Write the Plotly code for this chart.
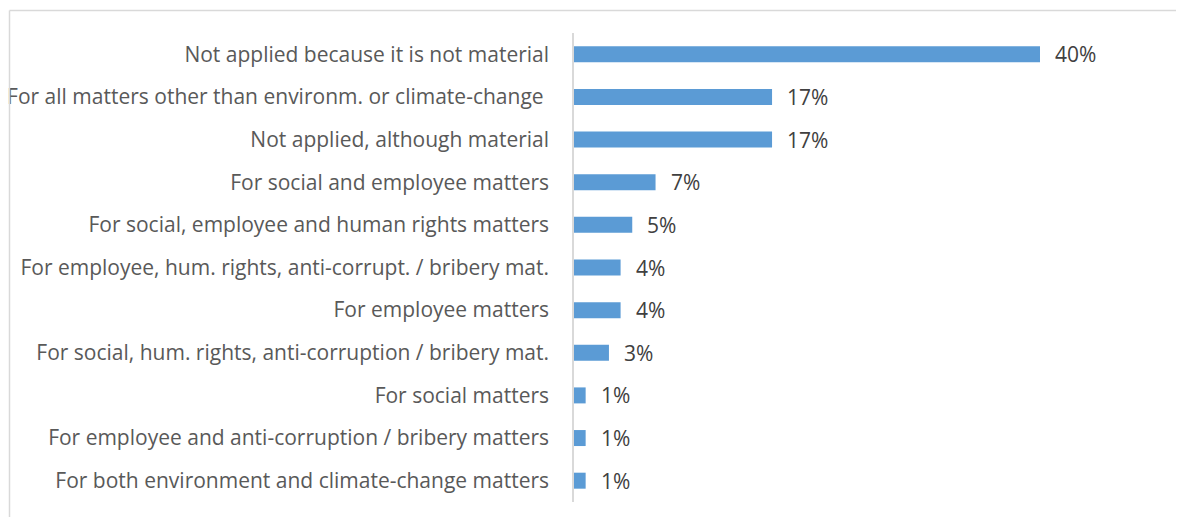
import plotly.graph_objects as go

categories = [
    "Not applied because it is not material",
    "For all matters other than environm. or climate-change ",
    "Not applied, although material",
    "For social and employee matters",
    "For social, employee and human rights matters",
    "For employee, hum. rights, anti-corrupt. / bribery mat.",
    "For employee matters",
    "For social, hum. rights, anti-corruption / bribery mat.",
    "For social matters",
    "For employee and anti-corruption / bribery matters",
    "For both environment and climate-change matters",
]
values = [40, 17, 17, 7, 5, 4, 4, 3, 1, 1, 1]
value_labels = ["40%", "17%", "17%", "7%", "5%", "4%", "4%", "3%", "1%", "1%", "1%"]

W, H = 1179, 517
L, R, T, B = 574, 81, 33, 15
pw, ph = W - L - R, H - T - B
FS = 21

fig = go.Figure(go.Bar(
    x=values, y=categories, orientation="h",
    marker=dict(color="#5B9BD5", line=dict(width=0)),
    width=0.375, hoverinfo="skip",
))

for c, v, lab in zip(categories, values, value_labels):
    fig.add_annotation(x=v, y=c, text=lab, showarrow=False, xanchor="left",
                       xshift=13, font=dict(family="Open Sans", size=FS, color="#404040"))

# outer chart border (partially visible)
def px_x(p):
    return (p - L) / pw
def px_y(p):
    return (H - B - p) / ph

fig.add_shape(type="line", xref="paper", yref="paper", x0=px_x(9.5), x1=px_x(1176), y0=px_y(10.5), y1=px_y(10.5),
              line=dict(color="#d9d9d9", width=1.5))
fig.add_shape(type="line", xref="paper", yref="paper", x0=px_x(9.5), x1=px_x(9.5), y0=px_y(10.5), y1=px_y(520),
              line=dict(color="#d9d9d9", width=1.5))

fig.update_layout(
    width=W, height=H,
    margin=dict(l=L, r=R, t=T, b=B, autoexpand=False),
    paper_bgcolor="white", plot_bgcolor="white",
    showlegend=False, bargap=0.625,
    font=dict(family="Open Sans", size=FS, color="#595959"),
)
fig.update_xaxes(range=[0, pw / 11.65], visible=False, showgrid=False, zeroline=False, automargin=False)
fig.update_yaxes(autorange="reversed", showline=True, linecolor="#d9d9d9", linewidth=1.5,
                 ticks="", ticklabelstandoff=19, showgrid=False, automargin=False,
                 tickfont=dict(family="Open Sans", size=FS, color="#595959"))

fig.write_html("out.html")
